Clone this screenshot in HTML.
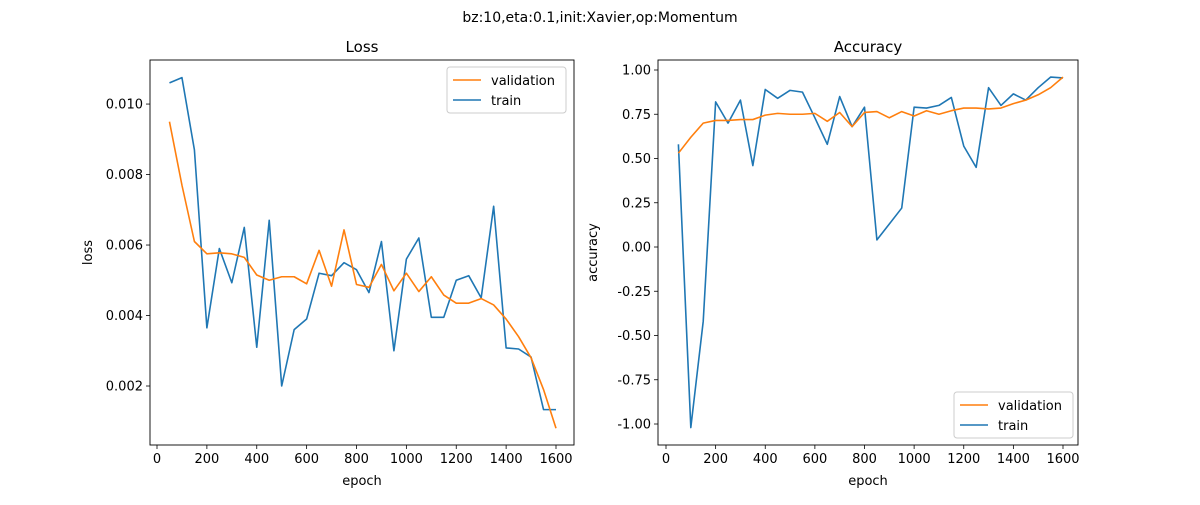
<!DOCTYPE html>
<html><head><meta charset="utf-8"><style>
body{margin:0;background:#fff;font-family:"Liberation Sans","DejaVu Sans",sans-serif}
text{font-family:"DejaVu Sans","Liberation Sans",sans-serif}
</style></head><body>
<svg id="c" width="1200" height="500" xmlns="http://www.w3.org/2000/svg">
<rect width="1200" height="500" fill="#fff"/>
<text x="600" y="22" font-size="14" text-anchor="middle">bz:10,eta:0.1,init:Xavier,op:Momentum</text>
</svg>
<script>
const epochs=[50,100,150,200,250,300,350,400,450,500,550,600,650,700,750,800,850,900,950,1000,1050,1100,1150,1200,1250,1300,1350,1400,1450,1500,1550,1600];
const lossTrain=[0.0106,0.01075,0.0087,0.00365,0.0059,0.00493,0.0065,0.0031,0.0067,0.0020,0.0036,0.0039,0.0052,0.00513,0.0055,0.0053,0.00465,0.0061,0.0030,0.0056,0.0062,0.00395,0.00395,0.0050,0.00513,0.0045,0.0071,0.00308,0.00305,0.00282,0.00133,0.00133];
const lossVal=[0.0095,0.0077,0.0061,0.00575,0.00578,0.00575,0.00565,0.00515,0.005,0.0051,0.0051,0.0049,0.00585,0.00483,0.00643,0.00488,0.0048,0.00545,0.0047,0.0052,0.00468,0.0051,0.00458,0.00435,0.00435,0.00448,0.0043,0.0039,0.0034,0.0028,0.0019,0.0008];
const accTrain=[0.58,-1.02,-0.42,0.82,0.70,0.83,0.46,0.89,0.84,0.885,0.875,0.73,0.58,0.85,0.68,0.79,0.04,0.13,0.22,0.79,0.785,0.80,0.845,0.57,0.45,0.90,0.80,0.865,0.83,0.90,0.96,0.955];
const accVal=[0.53,0.62,0.70,0.715,0.715,0.72,0.72,0.745,0.755,0.75,0.75,0.755,0.71,0.76,0.68,0.76,0.765,0.73,0.765,0.74,0.77,0.75,0.77,0.785,0.785,0.78,0.785,0.81,0.83,0.86,0.90,0.96];
const xTicks=[0,200,400,600,800,1000,1200,1400,1600];
const lossTicks=[0.002,0.004,0.006,0.008,0.010];
const accTicks=[-1.00,-0.75,-0.50,-0.25,0.00,0.25,0.50,0.75,1.00];

const svg=document.getElementById('c');
const NS='http://www.w3.org/2000/svg';
function el(t,a,p){const e=document.createElementNS(NS,t);for(const k in a)e.setAttribute(k,a[k]);(p||svg).appendChild(e);return e;}

function panel(o){
  const g=el('g',{});
  
  
  const L=o.left,R=o.right,T=60,B=445;
  const sx=v=>o.x0+(v)*(o.x1600-o.x0)/1600;
  const sy=v=>T+(o.ymax-v)/(o.ymax-o.ymin)*(B-T);
  xTicks.forEach(t=>{
    const x=sx(t);
    const tk=el('line',{x1:x,x2:x,y1:B,y2:B+4,stroke:'#000','stroke-width':0.8},g);
    
    
    const tx=el('text',{x:x,y:B+18,'font-size':13,'text-anchor':'middle'},g);
    tx.textContent=t;
    
    
  });
  o.ticks.forEach(t=>{
    const y=sy(t);
    const tk=el('line',{x1:L-4,x2:L,y1:y,y2:y,stroke:'#000','stroke-width':0.8},g);
    
    
    const tx=el('text',{x:L-7,y:y+4.5,'font-size':13,'text-anchor':'end'},g);
    tx.textContent=o.fmt(t);
    
    
  });
  const mk=(data,color,nm)=>{
    const p=el('polyline',{points:data.map((v,i)=>sx(epochs[i])+','+sy(v)).join(' '),fill:'none',stroke:color,'stroke-width':1.6,'stroke-linejoin':'round'},g);
    
    
  };
  mk(o.train,'#1f77b4','train-line');
  mk(o.val,'#ff7f0e','validation-line');
  const fr=el('rect',{x:L,y:T,width:R-L,height:B-T,fill:'none',stroke:'#000','stroke-width':0.9},g);
  
  
  const ti=el('text',{x:(L+R)/2,y:52,'font-size':15,'text-anchor':'middle'},g);
  ti.textContent=o.title;
  
  
  const xl=el('text',{x:(L+R)/2,y:485,'font-size':13,'text-anchor':'middle'},g);
  xl.textContent='epoch';
  
  
  const yl=el('text',{x:0,y:0,'font-size':13,'text-anchor':'middle',transform:`translate(${o.ylx},${(T+B)/2}) rotate(-90)`},g);
  yl.textContent=o.ylabel;
  
  
  const lg=el('g',{},g);
  
  
  el('rect',{x:o.lx,y:o.ly,width:119,height:46,rx:3,fill:'#fff',stroke:'#ccc','stroke-width':1},lg);
  [['validation','#ff7f0e'],['train','#1f77b4']].forEach((e,i)=>{
    const yy=o.ly+13+i*20;
    const en=el('g',{},lg);
    
    
    el('line',{x1:o.lx+6,x2:o.lx+34,y1:yy,y2:yy,stroke:e[1],'stroke-width':1.6},en);
    const t=el('text',{x:o.lx+44,y:yy+5,'font-size':13},en);
    t.textContent=e[0];
  });
}
panel({name:'loss-chart',left:150,right:574,x0:157,x1600:556,ymax:0.01125,ymin:0.000326,ticks:lossTicks,fmt:v=>v.toFixed(3),train:lossTrain,val:lossVal,title:'Loss',ylabel:'loss',ylx:92,lx:447,ly:67});
panel({name:'accuracy-chart',left:658,right:1078,x0:666,x1600:1063,ymax:1.0565,ymin:-1.1186,ticks:accTicks,fmt:v=>v.toFixed(2),train:accTrain,val:accVal,title:'Accuracy',ylabel:'accuracy',ylx:597,lx:954,ly:392});
</script>
</body></html>
